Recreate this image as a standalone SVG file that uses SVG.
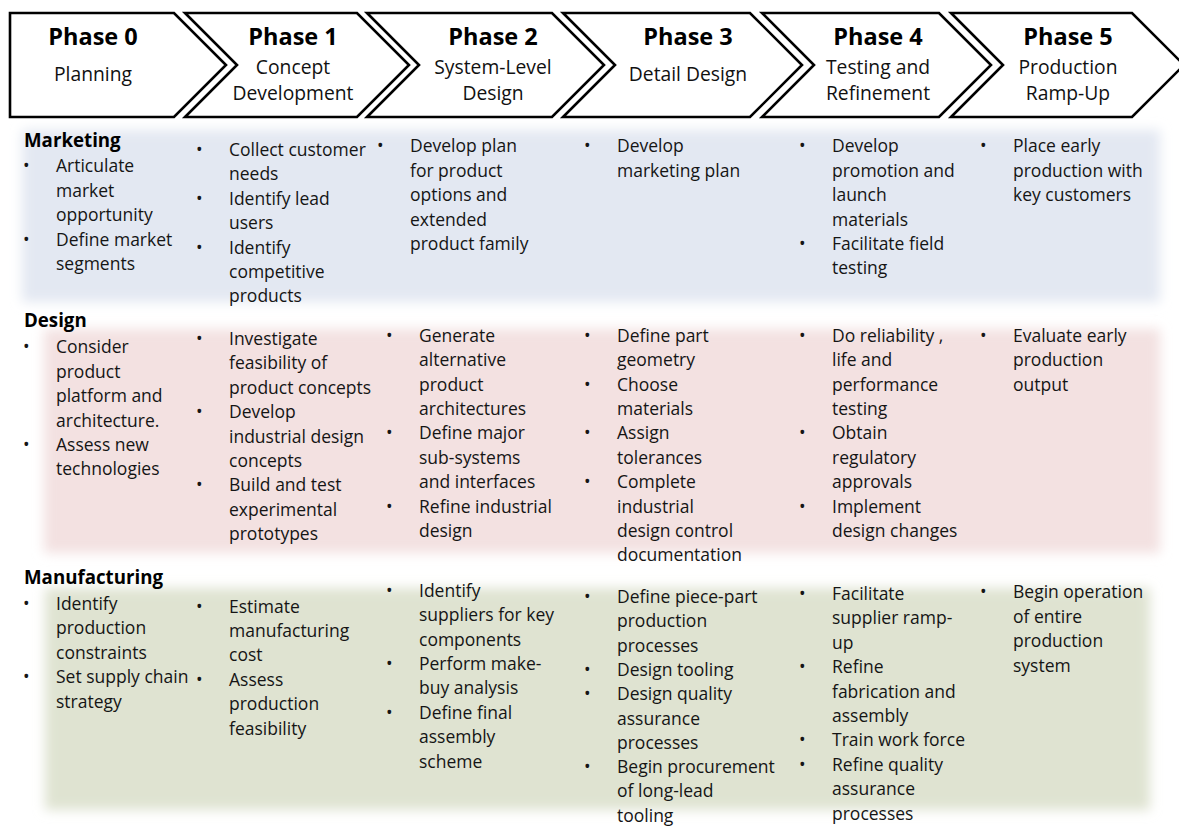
<svg xmlns="http://www.w3.org/2000/svg" width="1179" height="827" viewBox="0 0 1179 827">
<style>
.chev{fill:#ffffff;stroke:#000000;stroke-width:2.6;stroke-linejoin:miter}
.ttl{font-family:"Open Sans","Liberation Sans",sans-serif;font-weight:bold;font-size:23.5px;fill:#000;text-anchor:middle}
.sub{font-family:"Open Sans","Liberation Sans",sans-serif;font-size:19.3px;fill:#111;text-anchor:middle}
.hd{font-family:"Open Sans","Liberation Sans",sans-serif;font-weight:bold;font-size:18.7px;fill:#000}
.b{font-family:"Open Sans","Liberation Sans",sans-serif;font-size:17.5px;fill:#151515}
</style>
<defs>
<filter id="soft" x="-5%" y="-15%" width="110%" height="130%"><feGaussianBlur stdDeviation="6"/></filter>
</defs>
<rect width="1179" height="827" fill="#ffffff"/>
<g id="bands">
<rect id="band-marketing" x="22" y="130" width="1138" height="172" fill="#e3e8f2" filter="url(#soft)"/>
<rect id="band-design" x="44" y="329" width="1116" height="224" fill="#f3e1e1" filter="url(#soft)"/>
<rect id="band-manufacturing" x="45" y="588" width="1105" height="222" fill="#dfe3d1" filter="url(#soft)"/>
</g>
<g id="connectors"/>
<g id="phase0"><path class="chev" d="M10,13 H174 L226,65 L174,117 H10 Z"/><text class="ttl" x="93" y="45">Phase 0</text><text class="sub" x="93" y="81">Planning</text></g>
<g id="phase1"><path class="chev" d="M185,13 H357 L409,65 L357,117 H185 L237,65 Z"/><text class="ttl" x="293" y="45">Phase 1</text><text class="sub" x="293" y="74">Concept</text><text class="sub" x="293" y="100">Development</text></g>
<g id="phase2"><path class="chev" d="M367,13 H552 L604,65 L552,117 H367 L419,65 Z"/><text class="ttl" x="493" y="45">Phase 2</text><text class="sub" x="493" y="74">System-Level</text><text class="sub" x="493" y="100">Design</text></g>
<g id="phase3"><path class="chev" d="M563,13 H750 L802,65 L750,117 H563 L615,65 Z"/><text class="ttl" x="688" y="45">Phase 3</text><text class="sub" x="688" y="81">Detail Design</text></g>
<g id="phase4"><path class="chev" d="M762,13 H939 L991,65 L939,117 H762 L814,65 Z"/><text class="ttl" x="878" y="45">Phase 4</text><text class="sub" x="878" y="74">Testing and</text><text class="sub" x="878" y="100">Refinement</text></g>
<g id="phase5"><path class="chev" d="M951,13 H1132 L1184,65 L1132,117 H951 L1003,65 Z"/><text class="ttl" x="1068" y="45">Phase 5</text><text class="sub" x="1068" y="74">Production</text><text class="sub" x="1068" y="100">Ramp-Up</text></g>

<g id="marketing">
<text class="hd" x="24" y="147">Marketing</text>
<text class="b"><tspan x="23" y="172.3">•</tspan><tspan x="56" y="172.3">Articulate</tspan><tspan x="56" y="196.7">market</tspan><tspan x="56" y="221.1">opportunity</tspan><tspan x="23" y="245.5">•</tspan><tspan x="56" y="245.5">Define market</tspan><tspan x="56" y="269.9">segments</tspan></text>
<text class="b"><tspan x="196" y="156">•</tspan><tspan x="229" y="156">Collect customer</tspan><tspan x="229" y="180.4">needs</tspan><tspan x="196" y="204.8">•</tspan><tspan x="229" y="204.8">Identify lead</tspan><tspan x="229" y="229.2">users</tspan><tspan x="196" y="253.6">•</tspan><tspan x="229" y="253.6">Identify</tspan><tspan x="229" y="278">competitive</tspan><tspan x="229" y="302.4">products</tspan></text>
<text class="b"><tspan x="377" y="152.3">•</tspan><tspan x="410" y="152.3">Develop plan</tspan><tspan x="410" y="176.7">for product</tspan><tspan x="410" y="201.1">options and</tspan><tspan x="410" y="225.5">extended</tspan><tspan x="410" y="249.9">product family</tspan></text>
<text class="b"><tspan x="584" y="152.3">•</tspan><tspan x="617" y="152.3">Develop</tspan><tspan x="617" y="176.7">marketing plan</tspan></text>
<text class="b"><tspan x="799" y="152.3">•</tspan><tspan x="832" y="152.3">Develop</tspan><tspan x="832" y="176.7">promotion and</tspan><tspan x="832" y="201.1">launch</tspan><tspan x="832" y="225.5">materials</tspan><tspan x="799" y="249.9">•</tspan><tspan x="832" y="249.9">Facilitate field</tspan><tspan x="832" y="274.3">testing</tspan></text>
<text class="b"><tspan x="980" y="152.3">•</tspan><tspan x="1013" y="152.3">Place early</tspan><tspan x="1013" y="176.7">production with</tspan><tspan x="1013" y="201.1">key customers</tspan></text>
</g>

<g id="design">
<text class="hd" x="24" y="327.3">Design</text>
<text class="b"><tspan x="23" y="353.3">•</tspan><tspan x="56" y="353.3">Consider</tspan><tspan x="56" y="377.7">product</tspan><tspan x="56" y="402.1">platform and</tspan><tspan x="56" y="426.5">architecture.</tspan><tspan x="23" y="450.9">•</tspan><tspan x="56" y="450.9">Assess new</tspan><tspan x="56" y="475.3">technologies</tspan></text>
<text class="b"><tspan x="196" y="345">•</tspan><tspan x="229" y="345">Investigate</tspan><tspan x="229" y="369.4">feasibility of</tspan><tspan x="229" y="393.8">product concepts</tspan><tspan x="196" y="418.2">•</tspan><tspan x="229" y="418.2">Develop</tspan><tspan x="229" y="442.6">industrial design</tspan><tspan x="229" y="467">concepts</tspan><tspan x="196" y="491.4">•</tspan><tspan x="229" y="491.4">Build and test</tspan><tspan x="229" y="515.8">experimental</tspan><tspan x="229" y="540.2">prototypes</tspan></text>
<text class="b"><tspan x="386" y="341.7">•</tspan><tspan x="419" y="341.7">Generate</tspan><tspan x="419" y="366.1">alternative</tspan><tspan x="419" y="390.5">product</tspan><tspan x="419" y="414.9">architectures</tspan><tspan x="386" y="439.3">•</tspan><tspan x="419" y="439.3">Define major</tspan><tspan x="419" y="463.7">sub-systems</tspan><tspan x="419" y="488.1">and interfaces</tspan><tspan x="386" y="512.5">•</tspan><tspan x="419" y="512.5">Refine industrial</tspan><tspan x="419" y="536.9">design</tspan></text>
<text class="b"><tspan x="584" y="341.7">•</tspan><tspan x="617" y="341.7">Define part</tspan><tspan x="617" y="366.1">geometry</tspan><tspan x="584" y="390.5">•</tspan><tspan x="617" y="390.5">Choose</tspan><tspan x="617" y="414.9">materials</tspan><tspan x="584" y="439.3">•</tspan><tspan x="617" y="439.3">Assign</tspan><tspan x="617" y="463.7">tolerances</tspan><tspan x="584" y="488.1">•</tspan><tspan x="617" y="488.1">Complete</tspan><tspan x="617" y="512.5">industrial</tspan><tspan x="617" y="536.9">design control</tspan><tspan x="617" y="561.3">documentation</tspan></text>
<text class="b"><tspan x="799" y="341.7">•</tspan><tspan x="832" y="341.7">Do reliability ,</tspan><tspan x="832" y="366.1">life and</tspan><tspan x="832" y="390.5">performance</tspan><tspan x="832" y="414.9">testing</tspan><tspan x="799" y="439.3">•</tspan><tspan x="832" y="439.3">Obtain</tspan><tspan x="832" y="463.7">regulatory</tspan><tspan x="832" y="488.1">approvals</tspan><tspan x="799" y="512.5">•</tspan><tspan x="832" y="512.5">Implement</tspan><tspan x="832" y="536.9">design changes</tspan></text>
<text class="b"><tspan x="980" y="341.7">•</tspan><tspan x="1013" y="341.7">Evaluate early</tspan><tspan x="1013" y="366.1">production</tspan><tspan x="1013" y="390.5">output</tspan></text>
</g>

<g id="manufacturing">
<text class="hd" x="24" y="584">Manufacturing</text>
<text class="b"><tspan x="23" y="610">•</tspan><tspan x="56" y="610">Identify</tspan><tspan x="56" y="634.4">production</tspan><tspan x="56" y="658.8">constraints</tspan><tspan x="23" y="683.2">•</tspan><tspan x="56" y="683.2">Set supply chain</tspan><tspan x="56" y="707.6">strategy</tspan></text>
<text class="b"><tspan x="196" y="612.5">•</tspan><tspan x="229" y="612.5">Estimate</tspan><tspan x="229" y="636.9">manufacturing</tspan><tspan x="229" y="661.3">cost</tspan><tspan x="196" y="685.7">•</tspan><tspan x="229" y="685.7">Assess</tspan><tspan x="229" y="710.1">production</tspan><tspan x="229" y="734.5">feasibility</tspan></text>
<text class="b"><tspan x="386" y="596.7">•</tspan><tspan x="419" y="596.7">Identify</tspan><tspan x="419" y="621.1">suppliers for key</tspan><tspan x="419" y="645.5">components</tspan><tspan x="386" y="669.9">•</tspan><tspan x="419" y="669.9">Perform make-</tspan><tspan x="419" y="694.3">buy analysis</tspan><tspan x="386" y="718.7">•</tspan><tspan x="419" y="718.7">Define final</tspan><tspan x="419" y="743.1">assembly</tspan><tspan x="419" y="767.5">scheme</tspan></text>
<text class="b"><tspan x="584" y="603">•</tspan><tspan x="617" y="603">Define piece-part</tspan><tspan x="617" y="627.3">production</tspan><tspan x="617" y="651.6">processes</tspan><tspan x="584" y="675.9">•</tspan><tspan x="617" y="675.9">Design tooling</tspan><tspan x="584" y="700.2">•</tspan><tspan x="617" y="700.2">Design quality</tspan><tspan x="617" y="724.5">assurance</tspan><tspan x="617" y="748.8">processes</tspan><tspan x="584" y="773.1">•</tspan><tspan x="617" y="773.1">Begin procurement</tspan><tspan x="617" y="797.4">of long-lead</tspan><tspan x="617" y="821.5">tooling</tspan></text>
<text class="b"><tspan x="799" y="600">•</tspan><tspan x="832" y="600">Facilitate</tspan><tspan x="832" y="624.4">supplier ramp-</tspan><tspan x="832" y="648.8">up</tspan><tspan x="799" y="673.2">•</tspan><tspan x="832" y="673.2">Refine</tspan><tspan x="832" y="697.6">fabrication and</tspan><tspan x="832" y="722">assembly</tspan><tspan x="799" y="746.4">•</tspan><tspan x="832" y="746.4">Train work force</tspan><tspan x="799" y="770.8">•</tspan><tspan x="832" y="770.8">Refine quality</tspan><tspan x="832" y="795.2">assurance</tspan><tspan x="832" y="819.6">processes</tspan></text>
<text class="b"><tspan x="980" y="598.3">•</tspan><tspan x="1013" y="598.3">Begin operation</tspan><tspan x="1013" y="622.7">of entire</tspan><tspan x="1013" y="647.1">production</tspan><tspan x="1013" y="671.5">system</tspan></text>
</g>
</svg>
